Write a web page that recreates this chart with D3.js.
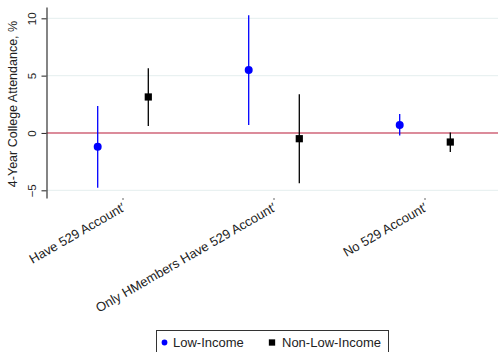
<!DOCTYPE html>
<html>
<head>
<meta charset="utf-8">
<script src="https://cdn.jsdelivr.net/npm/d3@7"></script>
<style>
  html, body { margin: 0; padding: 0; background: #fff; }
  svg { display: block; font-family: "Liberation Sans", Arial, sans-serif; }
</style>
</head>
<body>
<svg id="chart" width="498" height="352"></svg>
<script>
// Estimated effects on 4-year college attendance (%), with confidence intervals
const categories = ["Have 529 Account′", "Only HMembers Have 529 Account′", "No 529 Account′"];
const series = ["Low-Income", "Non-Low-Income"];
const lowEst   = [-1.2, 5.5, 0.7];
const lowLo    = [-4.77, 0.7, -0.23];
const lowHi    = [2.36, 10.27, 1.66];
const nonEst   = [3.14, -0.5, -0.79];
const nonLo    = [0.61, -4.39, -1.66];
const nonHi    = [5.65, 3.38, 0.03];
const yTicks   = [-5, 0, 5, 10];

const colors = { "Low-Income": "#0000ff", "Non-Low-Income": "#000000" };

const rows = [];
categories.forEach((c, i) => {
  rows.push({ cat: c, s: "Low-Income", est: lowEst[i], lo: lowLo[i], hi: lowHi[i] });
  rows.push({ cat: c, s: "Non-Low-Income", est: nonEst[i], lo: nonLo[i], hi: nonHi[i] });
});

const svg = d3.select("#chart");
const axisX = 46.5, plotTop = 7, plotBottom = 198, plotRight = 498;

const y = d3.scaleLinear().domain([-5, 10]).range([190.3, 18.3]);
const x = d3.scaleBand().domain(categories).range([47.5, 500.5]).padding(0);
const xs = d3.scalePoint().domain(series).range([-25.3, 25.3]);
const cx = d => x(d.cat) + x.bandwidth() / 2 + xs(d.s);

// horizontal grid
svg.append("g").selectAll("line").data(yTicks).join("line")
  .attr("x1", axisX).attr("x2", plotRight)
  .attr("y1", d => y(d)).attr("y2", d => y(d))
  .attr("stroke", "#e9f1f1").attr("stroke-width", 1.2);

// zero reference line
svg.append("line")
  .attr("x1", axisX).attr("x2", plotRight)
  .attr("y1", y(0)).attr("y2", y(0))
  .attr("stroke", "#d4687c").attr("stroke-width", 1.6);

// y axis
const yAxisScale = y.copy().domain([y.invert(plotBottom), y.invert(plotTop)])
  .range([plotBottom, plotTop]);
const yAxis = svg.append("g").attr("transform", `translate(${axisX},0)`)
  .call(d3.axisLeft(yAxisScale).tickValues(yTicks).tickSize(5).tickSizeOuter(0).tickFormat(d3.format("d")));
yAxis.select(".domain").attr("stroke", "#333").attr("stroke-width", 1.2);
yAxis.selectAll(".tick line").attr("stroke", "#333").attr("stroke-width", 1.1);
yAxis.selectAll(".tick text")
  .attr("x", null).attr("dy", null)
  .attr("transform", "translate(-11,0) rotate(-90)")
  .attr("text-anchor", "middle")
  .attr("font-size", 11.5).attr("fill", "#222")
  .attr("font-family", "Liberation Sans, Arial, sans-serif");

// y title
svg.append("text")
  .attr("transform", `translate(16.5,${104}) rotate(-90)`)
  .attr("text-anchor", "middle")
  .attr("font-size", 12.5).attr("fill", "#222")
  .text("4-Year College Attendance, %");

// x axis ticks and labels
const xg = svg.append("g");
xg.selectAll("line").data(categories).join("line")
  .attr("x1", d => x(d) + x.bandwidth() / 2).attr("x2", d => x(d) + x.bandwidth() / 2)
  .attr("y1", plotBottom).attr("y2", plotBottom + 2)
  .attr("stroke", "#666").attr("stroke-width", 1);
xg.selectAll("text").data(categories).join("text")
  .attr("transform", d => `translate(${x(d) + x.bandwidth() / 2 + 3},${plotBottom + 12}) rotate(-30)`)
  .attr("text-anchor", "end")
  .attr("font-size", 13).attr("fill", "#222")
  .text(d => d);

// confidence intervals
svg.append("g").selectAll("line").data(rows).join("line")
  .attr("x1", cx).attr("x2", cx)
  .attr("y1", d => y(d.lo)).attr("y2", d => y(d.hi))
  .attr("stroke", d => colors[d.s]).attr("stroke-width", 1.3);

// point estimates
const sym = {
  "Low-Income": d3.symbol(d3.symbolCircle, 50),
  "Non-Low-Income": d3.symbol(d3.symbolSquare, 52)
};
svg.append("g").selectAll("path").data(rows).join("path")
  .attr("transform", d => `translate(${cx(d)},${y(d.est)})`)
  .attr("d", d => sym[d.s]())
  .attr("fill", d => colors[d.s]);

// legend
const lg = svg.append("g");
lg.append("rect").attr("x", 156.5).attr("y", 330.5).attr("width", 232).attr("height", 30)
  .attr("fill", "#fff").attr("stroke", "#333").attr("stroke-width", 1);
const legendItems = [
  { s: "Low-Income", mx: 164.5, tx: 173, sym: d3.symbol(d3.symbolCircle, 26) },
  { s: "Non-Low-Income", mx: 272, tx: 282, sym: d3.symbol(d3.symbolSquare, 40) }
];
legendItems.forEach(it => {
  lg.append("path").attr("transform", `translate(${it.mx},342.5)`)
    .attr("d", it.sym()).attr("fill", colors[it.s]);
  lg.append("text").attr("x", it.tx).attr("y", 347)
    .attr("font-size", 13).attr("fill", "#222").text(it.s);
});
</script>
</body>
</html>
